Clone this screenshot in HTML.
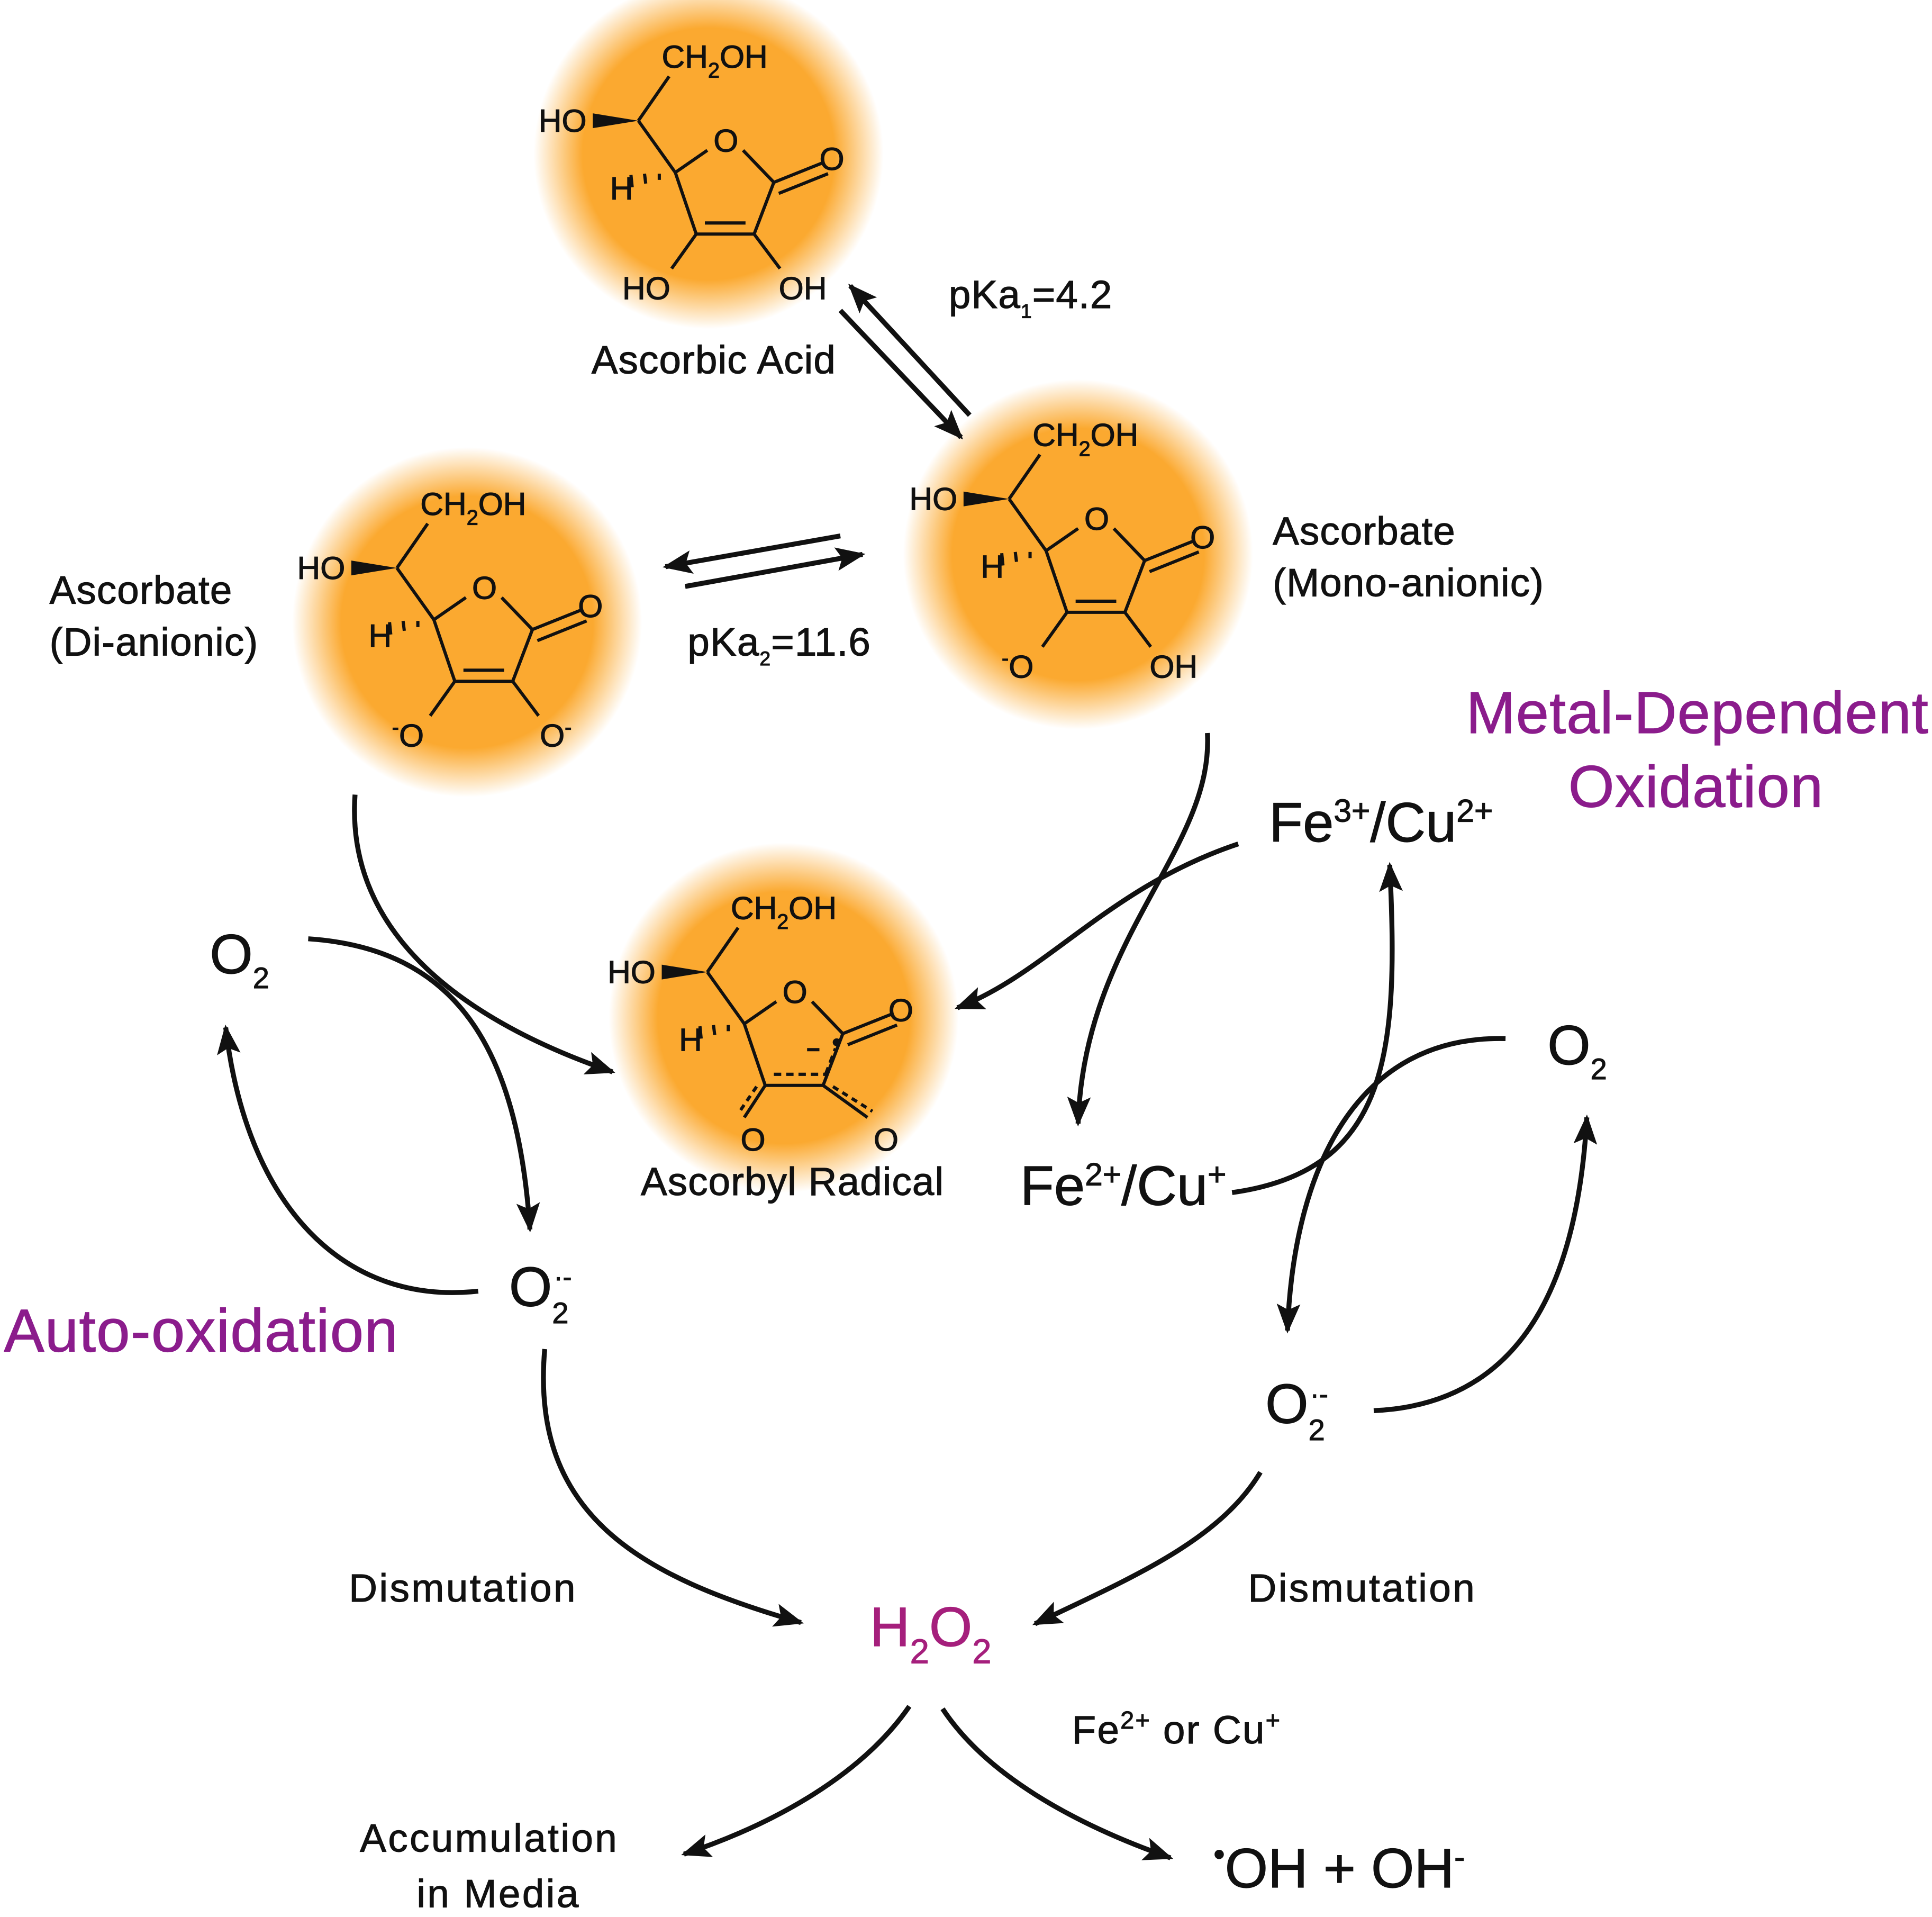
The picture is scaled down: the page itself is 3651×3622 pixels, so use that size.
<!DOCTYPE html>
<html><head><meta charset="utf-8"><style>
html,body{margin:0;padding:0;background:#fff;}
svg{display:block;}
text{font-family:"Liberation Sans",sans-serif;fill:#111;stroke:#111;stroke-width:0.5;}
.a{font-size:26px;}
.l{font-size:32px;letter-spacing:0.5px;}
.b{font-size:45px;}
.p{fill:#8B1C8C;stroke:#8B1C8C;font-size:48px;letter-spacing:0.5px;}
</style></head><body>
<svg width="3651" height="3622" viewBox="0 0 1568 1556" xmlns="http://www.w3.org/2000/svg">
<defs>
<radialGradient id="g">
<stop offset="0" stop-color="#FBA930"/>
<stop offset="0.72" stop-color="#FBA930"/>
<stop offset="1" stop-color="#FBA930" stop-opacity="0"/>
</radialGradient>
<marker id="ah" viewBox="0 0 10 10" refX="9" refY="5" markerWidth="6" markerHeight="6" orient="auto" markerUnits="strokeWidth">
<path d="M0,1 L10,5 L0,9 L2,5 z" fill="#111"/>
</marker>
<g id="sk" stroke="#111" stroke-width="2.6" fill="none">
<line x1="518" y1="98" x2="543" y2="62"/>
<polygon points="481,92 481,104 518,98" fill="#111" stroke="none"/>
<line x1="518" y1="98" x2="548" y2="140"/>
<line x1="535" y1="141" x2="535" y2="146"/>
<line x1="523" y1="141" x2="524" y2="149"/>
<line x1="512" y1="142" x2="513" y2="152"/>
<line x1="548" y1="140" x2="574" y2="122"/>
<line x1="603" y1="122" x2="628" y2="148"/>
<line x1="628" y1="148" x2="668" y2="132"/>
<line x1="632" y1="157" x2="672" y2="141"/>
<line x1="548" y1="140" x2="565" y2="190"/>
<line x1="628" y1="148" x2="612" y2="190"/>
<line x1="565" y1="190" x2="612" y2="190"/>
</g>
<g id="skt">
<text class="a" x="537" y="55">CH<tspan font-size="17" dy="8">2</tspan><tspan dy="-8">OH</tspan></text>
<text class="a" x="437" y="107">HO</text>
<text class="a" x="495" y="162">H</text>
<text class="a" x="579" y="123">O</text>
<text class="a" x="665" y="138">O</text>
</g>
</defs>

<circle cx="575" cy="125" r="142" fill="url(#g)"/>
<circle cx="875" cy="450" r="142" fill="url(#g)"/>
<circle cx="379" cy="505" r="142" fill="url(#g)"/>
<circle cx="636" cy="826" r="142" fill="url(#g)"/>

<g>
<use href="#sk"/><use href="#skt"/>
<g stroke="#111" stroke-width="2.6"><line x1="572" y1="181" x2="605" y2="181"/><line x1="565" y1="190" x2="545" y2="218"/><line x1="612" y1="190" x2="633" y2="218"/></g>
<text class="a" x="505" y="243">HO</text><text class="a" x="632" y="243">OH</text>
</g>
<g transform="translate(301,307)">
<use href="#sk"/><use href="#skt"/>
<g stroke="#111" stroke-width="2.6"><line x1="572" y1="181" x2="605" y2="181"/><line x1="565" y1="190" x2="545" y2="218"/><line x1="612" y1="190" x2="633" y2="218"/></g>
<text class="a" x="512" y="243"><tspan font-size="17" dy="-10">-</tspan><tspan dy="10">O</tspan></text><text class="a" x="632" y="243">OH</text>
</g>
<g transform="translate(-196,363)">
<use href="#sk"/><use href="#skt"/>
<g stroke="#111" stroke-width="2.6"><line x1="572" y1="181" x2="605" y2="181"/><line x1="565" y1="190" x2="545" y2="218"/><line x1="612" y1="190" x2="633" y2="218"/></g>
<text class="a" x="514" y="243"><tspan font-size="17" dy="-10">-</tspan><tspan dy="10">O</tspan></text><text class="a" x="634" y="243">O<tspan font-size="17" dy="-10">-</tspan></text>
</g>
<g transform="translate(56,691)">
<use href="#sk"/><use href="#skt"/>
<g stroke="#111" stroke-width="2.6">
<line x1="572" y1="181" x2="614" y2="181" stroke-dasharray="6,4"/>
<line x1="614" y1="181" x2="622" y2="160" stroke-dasharray="6,4"/>
<line x1="565" y1="190" x2="548" y2="216"/><line x1="558" y1="191" x2="543" y2="213" stroke-dasharray="5,4"/>
<line x1="612" y1="190" x2="648" y2="216"/><line x1="620" y1="191" x2="652" y2="211" stroke-dasharray="5,4"/>
<line x1="599" y1="161" x2="609" y2="161"/>
</g>
<circle cx="623" cy="155" r="3.2" fill="#111"/>
<text class="a" x="545" y="243">O</text><text class="a" x="653" y="243">O</text>
</g>

<text class="l" x="480" y="303">Ascorbic Acid</text>
<text class="l" x="1033" y="442">Ascorbate</text>
<text class="l" x="1033" y="484">(Mono-anionic)</text>
<text class="l" x="40" y="490">Ascorbate</text>
<text class="l" x="40" y="532">(Di-anionic)</text>
<text class="l" x="520" y="970">Ascorbyl Radical</text>
<text class="l" x="770" y="250" font-size="34">pKa<tspan font-size="16" dy="8">1</tspan><tspan dy="-8">=4.2</tspan></text>
<text class="l" x="558" y="532" font-size="34">pKa<tspan font-size="16" dy="8">2</tspan><tspan dy="-8">=11.6</tspan></text>
<text class="p" x="1190" y="595">Metal-Dependent</text>
<text class="p" x="1273" y="655">Oxidation</text>
<text class="p" x="3" y="1097" style="font-size:49px">Auto-oxidation</text>
<text class="b" x="1030" y="683">Fe<tspan font-size="26" dy="-16">3+</tspan><tspan dy="16">/Cu</tspan><tspan font-size="26" dy="-16">2+</tspan></text>
<text class="b" x="828" y="978">Fe<tspan font-size="26" dy="-16">2+</tspan><tspan dy="16">/Cu</tspan><tspan font-size="26" dy="-16">+</tspan></text>
<text class="b" x="1256" y="864" font-size="40">O<tspan font-size="24" dy="12">2</tspan></text>
<text class="b" x="170" y="790" font-size="40">O<tspan font-size="24" dy="12">2</tspan></text>
<text class="b" x="413" y="1060" font-size="40">O<tspan font-size="24" dy="14">2</tspan><tspan font-size="22" dy="-30" dx="-12">·-</tspan></text>
<text class="b" x="1027" y="1155" font-size="40">O<tspan font-size="24" dy="14">2</tspan><tspan font-size="22" dy="-30" dx="-12">·-</tspan></text>
<text class="l" x="283" y="1300" font-size="35" style="letter-spacing:1.5px">Dismutation</text>
<text class="l" x="1013" y="1300" font-size="35" style="letter-spacing:1.5px">Dismutation</text>
<text class="b" x="706" y="1336" style="fill:#A51F7C;stroke:#A51F7C">H<tspan font-size="28" dy="14">2</tspan><tspan dy="-14">O</tspan><tspan font-size="28" dy="14">2</tspan></text>
<text class="l" x="870" y="1415" font-size="35" style="letter-spacing:1px">Fe<tspan font-size="20" dy="-12">2+</tspan><tspan dy="12">  or  Cu</tspan><tspan font-size="20" dy="-12">+</tspan></text>
<text class="l" x="292" y="1503" font-size="35" style="letter-spacing:1.5px">Accumulation</text>
<text class="l" x="338" y="1548" font-size="35" style="letter-spacing:1.5px">in Media</text>
<text class="b" x="985" y="1532"><tspan font-size="26" dy="-18">•</tspan><tspan dy="18">OH + OH</tspan><tspan font-size="26" dy="-16">-</tspan></text>

<g stroke="#111" stroke-width="4" fill="none" marker-end="url(#ah)">
<path d="M787,337 L690,232"/>
<path d="M682,252 L780,355"/>
<path d="M682,435 L540,460"/>
<path d="M556,476 L700,450"/>
<path d="M980,595 C985,690 880,760 875,912"/>
<path d="M1005,685 C900,720 850,790 777,818"/>
<path d="M1000,968 C1130,950 1135,850 1128,702"/>
<path d="M1222,843 C1100,840 1050,950 1045,1080"/>
<path d="M1115,1145 C1230,1140 1280,1050 1288,907"/>
<path d="M1023,1195 C990,1250 920,1280 840,1318"/>
<path d="M288,645 C280,760 380,830 497,870"/>
<path d="M250,762 C370,770 420,850 430,998"/>
<path d="M388,1048 C280,1060 200,980 183,834"/>
<path d="M442,1095 C430,1230 520,1280 650,1317"/>
<path d="M738,1385 C700,1440 630,1480 555,1505"/>
<path d="M765,1387 C800,1440 870,1480 950,1508"/>
</g>
</svg>
</body></html>
